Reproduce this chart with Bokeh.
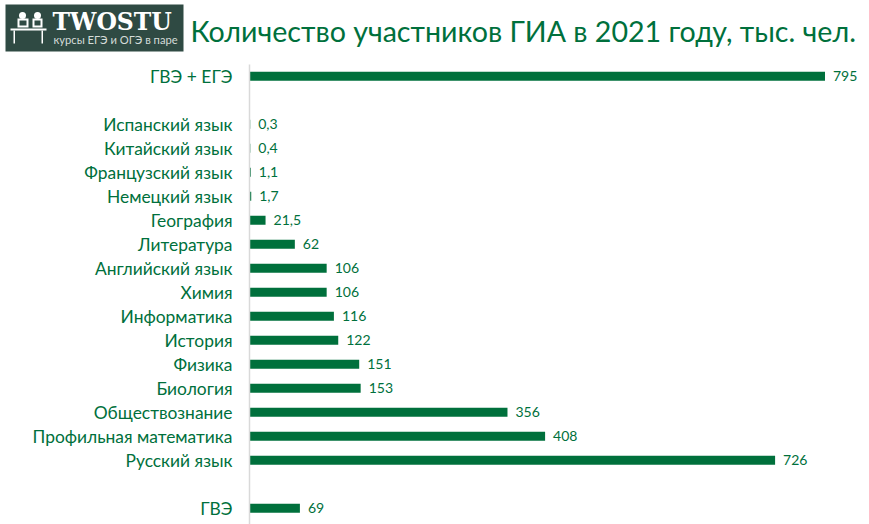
from bokeh.plotting import figure
from bokeh.core.properties import value
from bokeh.layouts import column, row
from bokeh.models import ColumnDataSource, FixedTicker, Range1d, Label
from bokeh.embed import file_html
from bokeh.resources import INLINE

title_text = "Количество участников ГИА в 2021 году, тыс. чел."
categories = ["ГВЭ + ЕГЭ", "", "Испанский язык", "Китайский язык", "Французский язык", "Немецкий язык",
              "География", "Литература", "Английский язык", "Химия", "Информатика", "История", "Физика",
              "Биология", "Обществознание", "Профильная математика", "Русский язык", " ", "ГВЭ"]
values = [795, None, 0.3, 0.4, 1.1, 1.7, 21.5, 62, 106, 106, 116, 122, 151, 153, 356, 408, 726, None, 69]
labels = ["795", "", "0,3", "0,4", "1,1", "1,7", "21,5", "62", "106", "106", "116", "122", "151", "153",
          "356", "408", "726", "", "69"]
logo_main = "TWOSTU"
logo_sub = "курсы ЕГЭ и ОГЭ в паре"

GREEN = "#00703c"
FONT = "Lato"
rows = list(range(len(categories)))
shown = [i for i, v in enumerate(values) if v is not None]
src = ColumnDataSource(dict(y=[rows[i] for i in shown], v=[values[i] for i in shown], t=[labels[i] for i in shown]))

W, H, HEAD_H, LOGO_W = 869, 524, 64, 188
AXIS_PX, SCALE = 249, 575 / 795
ROW0_PX, ROW_PX = 75.75, 24.0


def bare(width, height, x_end, y_start):
    f = figure(width=width, height=height, output_backend="svg", toolbar_location=None,
               x_range=Range1d(0, x_end), y_range=Range1d(y_start, 0),
               x_axis_location=None, y_axis_location=None,
               min_border_left=0, min_border_right=0, min_border_top=0, min_border_bottom=0)
    f.outline_line_color = None
    f.grid.visible = False
    return f


# logo panel (pixel-sized ranges)
logo = bare(LOGO_W, HEAD_H, LOGO_W, HEAD_H)
LOGO_BG = "#2f4a43"
logo.quad(left=5, right=178 + 5, top=4, bottom=51, color=LOGO_BG, line_color=None)
logo.quad(left=[10, 13, 41, 17, 32], right=[46, 14.5, 42.5, 28, 42], top=[28, 30, 30, 18, 18], bottom=[30, 43, 43, 27, 27],
          color="white", line_color=None)
logo.quad(left=[19, 34], right=[26, 40], top=[20, 20], bottom=[25, 25], color=LOGO_BG, line_color=None)
logo.scatter(x=[22, 37], y=[15, 15], size=7, color="white", line_color=None)
logo.add_layout(Label(x=52, y=21.5, text=logo_main, text_color="white", text_font="DejaVu Serif",
                      text_font_style="bold", text_font_size="23.5px", text_baseline="middle"))
logo.add_layout(Label(x=53, y=38.5, text=logo_sub, text_color="#d5dcd9", text_font=FONT,
                      text_font_size="11.2px", text_baseline="middle"))

# heading panel
head = bare(W - LOGO_W, HEAD_H, W - LOGO_W, HEAD_H)
head.add_layout(Label(x=190 - LOGO_W, y=30, text=title_text, text_color=GREEN, text_font=FONT,
                      text_font_size="28.6px", text_baseline="middle"))

# chart
p = figure(width=W, height=H - HEAD_H, output_backend="svg", toolbar_location=None,
           x_range=Range1d(-0.5 / SCALE, (W - AXIS_PX - 0.5) / SCALE),
           y_range=Range1d((H - ROW0_PX) / ROW_PX, (HEAD_H - ROW0_PX) / ROW_PX),
           min_border_left=AXIS_PX, min_border_right=0, min_border_top=0, min_border_bottom=0)
p.outline_line_color = None
p.grid.visible = False
p.xaxis.visible = False

ax = p.yaxis[0]
ax.ticker = FixedTicker(ticks=[i for i, c in enumerate(categories) if c.strip()])
ax.major_label_overrides = {i: c for i, c in enumerate(categories) if c.strip()}
ax.major_tick_line_color = None
ax.minor_tick_line_color = None
ax.axis_line_color = "#d9d9d9"
ax.axis_line_width = 1.5
ax.major_label_text_color = GREEN
ax.major_label_text_font = FONT
ax.major_label_text_font_size = "17.4px"
ax.major_label_standoff = 11

p.hbar(y="y", left=0, right="v", height=9 / 24, source=src, fill_color=GREEN, line_color=None)
p.text(x="v", y="y", text="t", source=src, x_offset=8, text_baseline="middle",
       text_color=GREEN, text_font=value(FONT), text_font_size="14px")

page = column(row(logo, head, spacing=0), p, spacing=0)
open("out.html", "w").write(file_html(page, INLINE))
